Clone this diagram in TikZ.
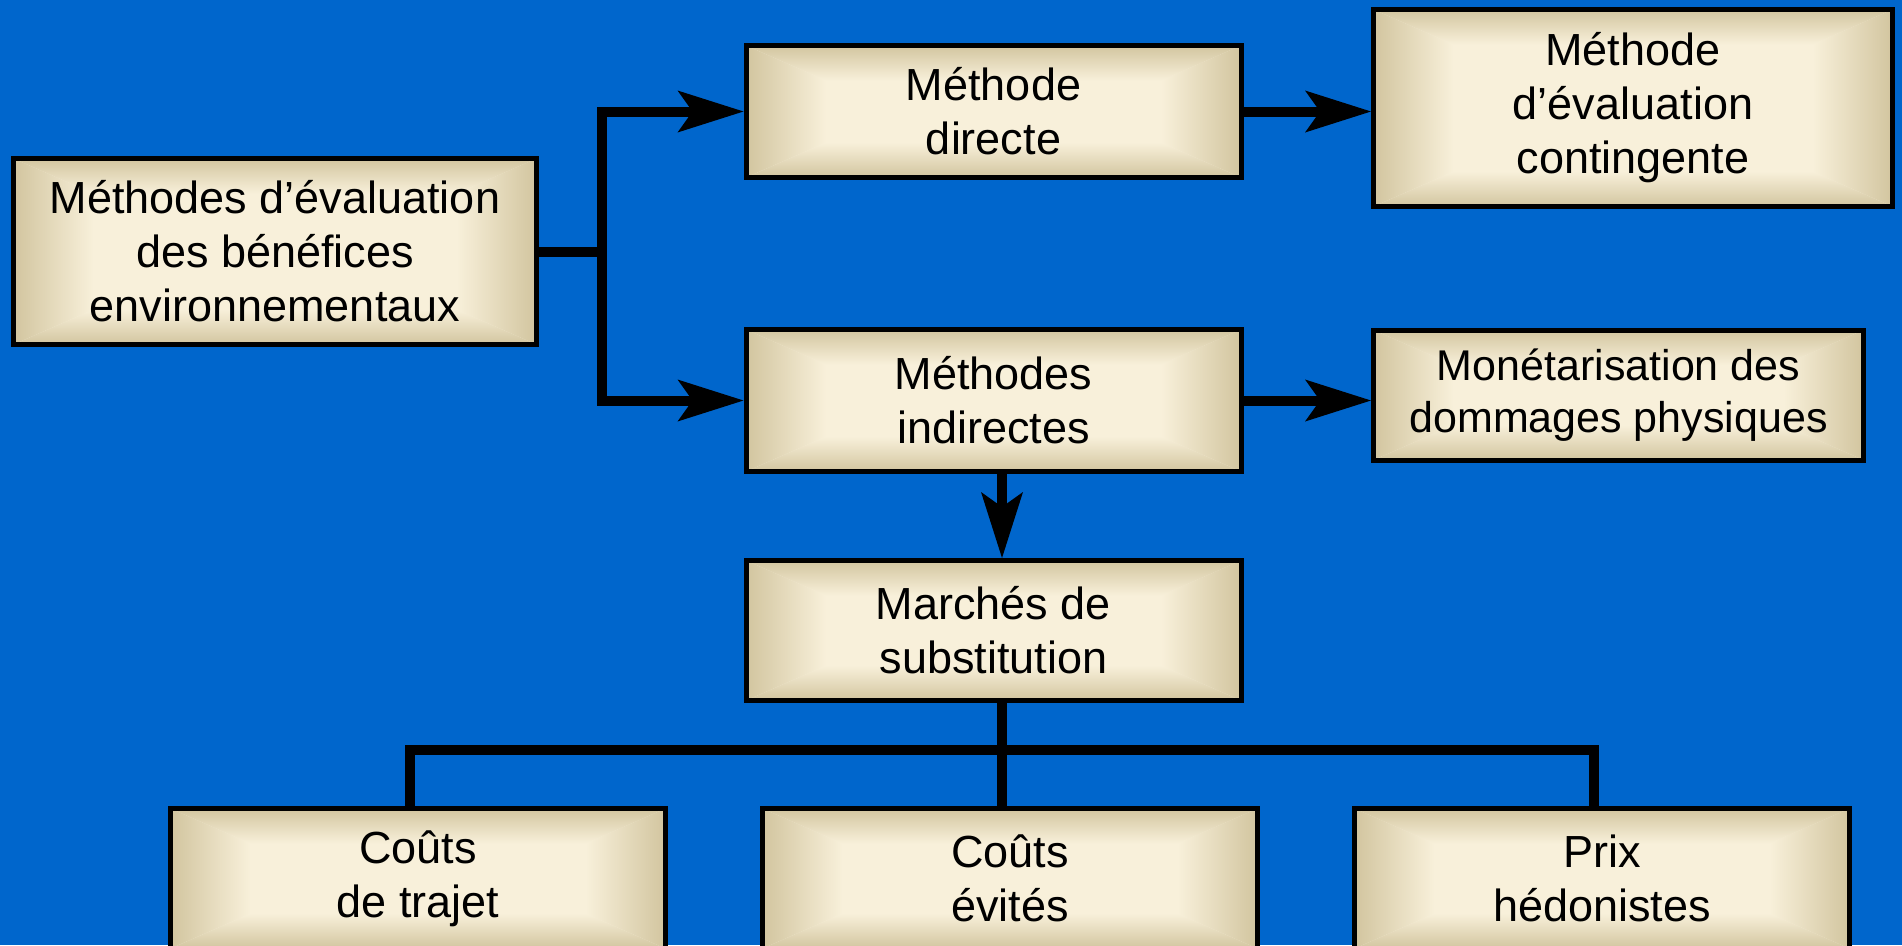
\documentclass[tikz,border=0pt]{standalone}
\usepackage{fontspec}
\setmainfont{Liberation Sans}
\usetikzlibrary{arrows.meta,calc}
\definecolor{slideblue}{RGB}{0,102,204}
\definecolor{boxedge}{RGB}{210,197,159}
\definecolor{boxmid}{RGB}{248,240,218}

\newcommand{\bevelfill}{%
  \coordinate (bl) at (path picture bounding box.south west);
  \coordinate (tr) at (path picture bounding box.north east);
  \coordinate (tl) at (bl |- tr);
  \coordinate (br) at (tr |- bl);
  \shade[left color=boxedge, right color=boxmid]
    (bl) -- (tl) -- ($(tl)+(80pt,-35pt)$) -- ($(bl)+(80pt,35pt)$) -- cycle;
  \shade[left color=boxmid, right color=boxedge]
    (br) -- (tr) -- ($(tr)+(-80pt,-35pt)$) -- ($(br)+(-80pt,35pt)$) -- cycle;
  \shade[top color=boxedge, bottom color=boxmid]
    (tl) -- (tr) -- ($(tr)+(-80pt,-35pt)$) -- ($(tl)+(80pt,-35pt)$) -- cycle;
  \shade[top color=boxmid, bottom color=boxedge]
    (bl) -- (br) -- ($(br)+(-80pt,35pt)$) -- ($(bl)+(80pt,35pt)$) -- cycle;
}

\tikzset{
  box/.style={draw=black, line width=5pt, fill=boxmid, align=center, inner sep=0pt,
    minimum width=495pt, minimum height=140pt,
    font=\fontsize{45}{54}\selectfont, path picture={\bevelfill}},
  conn/.style={line width=10pt, black},
  tip/.style={-{Stealth[length=66pt, width=42pt, inset=15pt, line width=0pt]}}
}

\begin{document}
\begin{tikzpicture}[x=1pt, y=-1pt]
    \useasboundingbox (0,0) rectangle (1902,945);
    \clip (0,0) rectangle (1902,945);
    \fill[slideblue] (0,0) rectangle (1902,945);

    \node[box, minimum width=523pt, minimum height=186pt] (methods) at (275,251.5)
      {Méthodes d’évaluation\\des bénéfices\\environnementaux};
    \node[box, minimum height=132pt] (direct) at (993.5,111.5) {Méthode\\directe};
    \node[box, minimum width=519pt, minimum height=197pt] (contingent) at (1633,108)
      {Méthode\\d’évaluation\\contingente};
    \node[box, minimum height=142pt] (indirect) at (993.5,400.5) {Méthodes\\indirectes};
    \node[box, minimum width=490pt, minimum height=130pt,
      font=\fontsize{43}{52}\selectfont] (damage) at (1618.5,395)
      {Monétarisation des\\dommages physiques};
    \node[box] (markets) at (993.5,630.5) {Marchés de\\substitution};
    \node[box] (travel) at (418,878.5) {Coûts\\de trajet};
    \node[box] (avoided) at (1010,878.5) {Coûts\\évités};
    \node[box] (hedonic) at (1602,878.5) {Prix\\hédonistes};

    \coordinate (fork) at (602,0);
    \coordinate (stem) at (1002,750);
    \coordinate (barL) at (410,750);
    \coordinate (barR) at (1594,750);

    \draw[conn] (methods.east) -- (fork |- methods.east);
    \draw[conn, tip] (fork |- indirect.west) -- (fork |- direct.west) -- (direct.west);
    \draw[conn, tip] (fork |- direct.west) -- (fork |- indirect.west) -- (indirect.west);
    \draw[conn, tip] (direct.east) -- (contingent.west |- direct.east);
    \draw[conn, tip] (indirect.east) -- (damage.west |- indirect.east);
    \draw[conn, tip] (stem |- indirect.south) -- (stem |- markets.north);

    \draw[conn] (stem |- markets.south) -- (stem |- avoided.north);
    \draw[conn] (barL |- travel.north) -- (barL) -- (barR) -- (barR |- hedonic.north);

  \end{tikzpicture}
\end{document}
